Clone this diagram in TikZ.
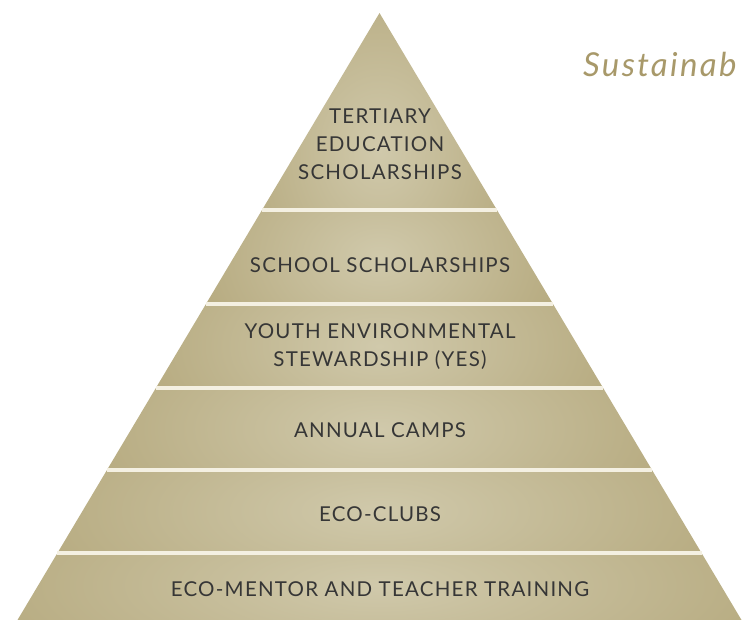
\documentclass[tikz,border=0pt]{standalone}
\usepackage{fontspec}
\setmainfont{Lato}
\usetikzlibrary{calc}
\definecolor{goldlight}{HTML}{D0C9AB}
\definecolor{golddark}{HTML}{A69764}
\definecolor{sepcol}{HTML}{F4F0E2}
\definecolor{txtcol}{HTML}{363636}
\definecolor{titlecol}{HTML}{A8996A}
\begin{document}
\begin{tikzpicture}[x=1pt,y=-1pt,
  lbl/.style={font=\fontsize{20.5}{28}\selectfont\addfontfeatures{LetterSpace=6}, text=txtcol, align=center, inner sep=0pt},
  sep/.style={draw=sepcol, line width=3.5pt},
  glow/.style={inner color=goldlight, outer color=golddark}]
\useasboundingbox (0,0) rectangle (742,620);
\coordinate (A) at (379.5,13);
\coordinate (BL) at (17.5,620);
\coordinate (BR) at (741.5,620);
\foreach \i/\t in {1/0.32455,2/0.47941,3/0.61779,4/0.75288,5/0.88962}{
  \coordinate (L\i) at ($(A)!\t!(BL)$);
  \coordinate (R\i) at ($(A)!\t!(BR)$);
}
% bands
\begin{scope}
  \clip (A) -- (R1) -- (L1) -- cycle;
  \shade[glow] (379.5,150) ellipse [x radius=240pt, y radius=300pt];
\end{scope}
\begin{scope}
  \clip (L1) -- (R1) -- (R2) -- (L2) -- cycle;
  \shade[glow] (379.5,257) ellipse [x radius=310pt, y radius=220pt];
\end{scope}
\begin{scope}
  \clip (L2) -- (R2) -- (R3) -- (L3) -- cycle;
  \shade[glow] (379.5,346) ellipse [x radius=405pt, y radius=220pt];
\end{scope}
\begin{scope}
  \clip (L3) -- (R3) -- (R4) -- (L4) -- cycle;
  \shade[glow] (379.5,429) ellipse [x radius=500pt, y radius=220pt];
\end{scope}
\begin{scope}
  \clip (L4) -- (R4) -- (R5) -- (L5) -- cycle;
  \shade[glow] (379.5,511) ellipse [x radius=600pt, y radius=220pt];
\end{scope}
\begin{scope}
  \clip (L5) -- (R5) -- (BR) -- (BL) -- cycle;
  \shade[glow] (379.5,585) ellipse [x radius=690pt, y radius=200pt];
\end{scope}
% separators
\draw[sep] (L1) -- (R1);
\draw[sep] (L2) -- (R2);
\draw[sep] (L3) -- (R3);
\draw[sep] (L4) -- (R4);
\draw[sep] (L5) -- (R5);
% labels
\node[lbl] (t1) at (380,144) {TERTIARY\\EDUCATION\\SCHOLARSHIPS};
\node[lbl] (t2) at (380,265) {SCHOOL SCHOLARSHIPS};
\node[lbl] (t3) at (380,347) {YOUTH ENVIRONMENTAL\\STEWARDSHIP (YES)};
\node[lbl] (t4) at (380,430) {ANNUAL CAMPS};
\node[lbl] (t5) at (380,514) {ECO-CLUBS};
\node[lbl] (t6) at (380,589) {ECO-MENTOR AND TEACHER TRAINING};
\node[anchor=base west, inner sep=0pt, font=\fontsize{33}{36}\selectfont\itshape\addfontfeatures{LetterSpace=7}, text=titlecol] (title) at (583,77) {Sustainab};
\end{tikzpicture}
\end{document}
